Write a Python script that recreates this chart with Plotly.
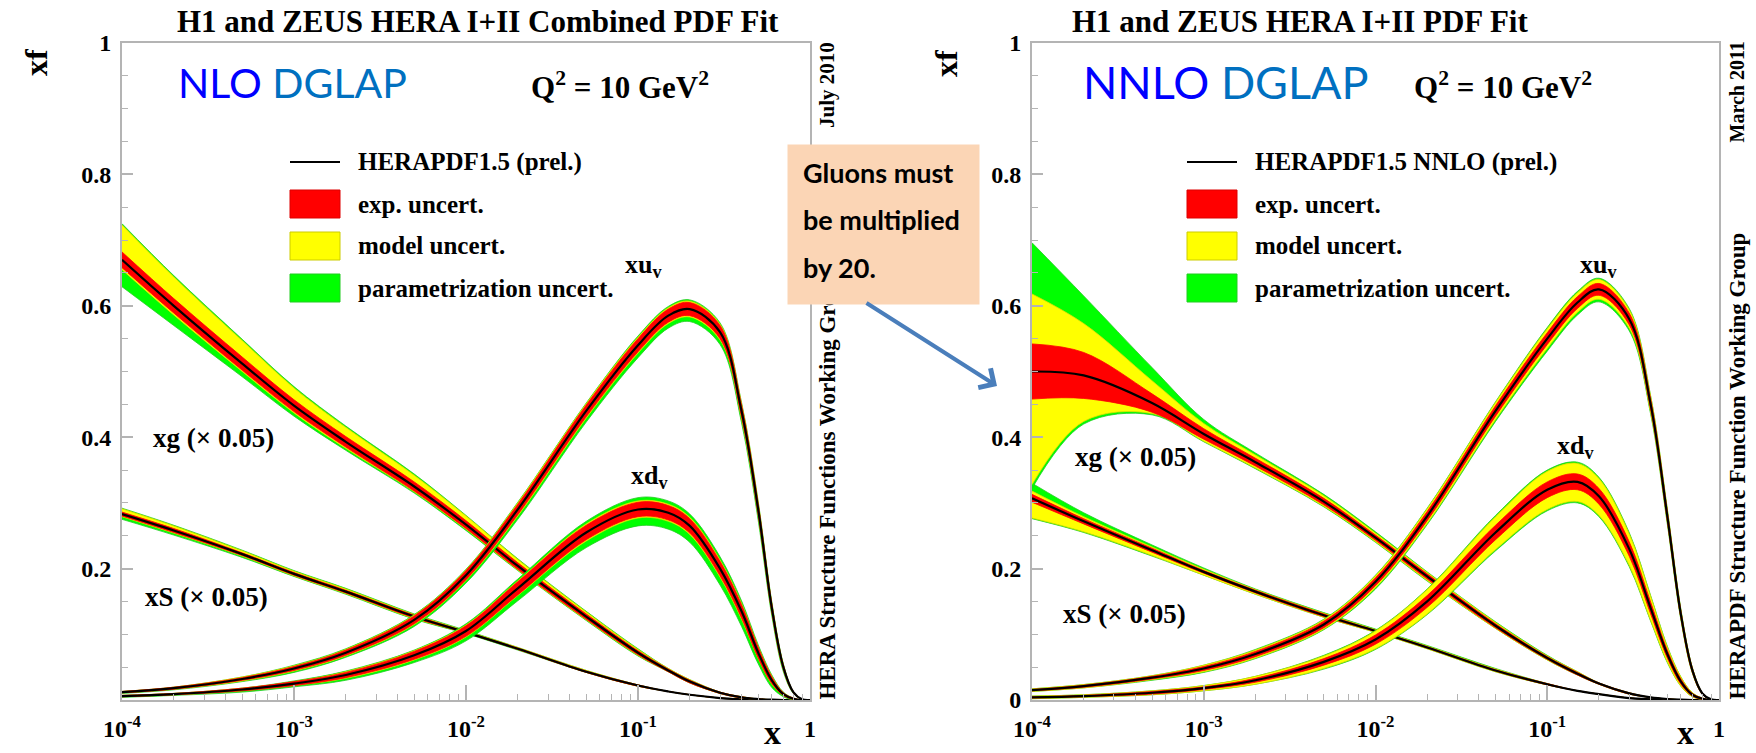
import math
import plotly.graph_objects as go

W, H = 1756, 753

# common x grid
X = [1e-4, 2e-4, 5e-4, 1e-3, 2e-3, 5e-3, 0.01, 0.02, 0.05, 0.1, 0.15, 0.2, 0.3, 0.4, 0.5, 0.6, 0.7, 0.8, 0.9, 1.0]

# ---------------- NLO panel ----------------
NLO_G = [0.670, 0.600, 0.512, 0.448, 0.393, 0.325, 0.267, 0.204, 0.127, 0.072, 0.045, 0.028, 0.011, 0.004, 0.0015, 0.0005, 0, 0, 0, 0]
NLO_G_EXP = [0.012, 0.011, 0.010, 0.009, 0.008, 0.007, 0.006, 0.005, 0.004, 0.003, 0.002, 0.002, 0.001, 0.001, 0, 0, 0, 0, 0, 0]
NLO_G_MOD_UP = [0.041, 0.033, 0.025, 0.018, 0.014, 0.010, 0.007, 0.005, 0.003, 0.002, 0.001, 0.001, 0, 0, 0, 0, 0, 0, 0, 0]
NLO_G_MOD_DN = [0.003, 0.003, 0.002, 0.002, 0.002, 0.001, 0.001, 0.001, 0.001, 0.001, 0, 0, 0, 0, 0, 0, 0, 0, 0, 0]
NLO_G_PAR_UP = [0.002, 0.002, 0.002, 0.002, 0.002, 0.002, 0.001, 0.001, 0.001, 0.001, 0, 0, 0, 0, 0, 0, 0, 0, 0, 0]
NLO_G_PAR_DN = [0.026, 0.016, 0.008, 0.005, 0.003, 0.002, 0.002, 0.001, 0.001, 0.001, 0, 0, 0, 0, 0, 0, 0, 0, 0, 0]

NLO_S = [0.283, 0.258, 0.222, 0.192, 0.165, 0.127, 0.103, 0.078, 0.043, 0.022, 0.013, 0.008, 0.003, 0.001, 0, 0, 0, 0, 0, 0]
NLO_S_EXP = [0.003, 0.003, 0.002, 0.002, 0.002, 0.002, 0.001, 0.001, 0.001, 0.001, 0, 0, 0, 0, 0, 0, 0, 0, 0, 0]
NLO_S_MOD_UP = [0.005, 0.004, 0.003, 0.002, 0.002, 0.001, 0.001, 0.001, 0.001, 0, 0, 0, 0, 0, 0, 0, 0, 0, 0, 0]
NLO_S_MOD_DN = [0.001, 0.001, 0.001, 0.001, 0.001, 0.001, 0, 0, 0, 0, 0, 0, 0, 0, 0, 0, 0, 0, 0, 0]
NLO_S_PAR_UP = [0.001, 0.001, 0.001, 0.001, 0.001, 0.001, 0.001, 0, 0, 0, 0, 0, 0, 0, 0, 0, 0, 0, 0, 0]
NLO_S_PAR_DN = [0.004, 0.003, 0.002, 0.001, 0.001, 0.001, 0.001, 0.001, 0, 0, 0, 0, 0, 0, 0, 0, 0, 0, 0, 0]

NLO_UV = [0.012, 0.018, 0.032, 0.048, 0.072, 0.122, 0.19, 0.29, 0.44, 0.54, 0.585, 0.595, 0.56, 0.44, 0.29, 0.14, 0.05, 0.012, 0.001, 0]
NLO_UV_EXP = [0.001, 0.0015, 0.002, 0.003, 0.004, 0.006, 0.007, 0.008, 0.009, 0.010, 0.010, 0.010, 0.010, 0.009, 0.008, 0.006, 0.003, 0.001, 0, 0]
NLO_UV_MOD_UP = [0, 0, 0.001, 0.001, 0.001, 0.001, 0.001, 0.002, 0.002, 0.002, 0.002, 0.002, 0.002, 0.002, 0.002, 0.001, 0.001, 0, 0, 0]
NLO_UV_MOD_DN = [0, 0, 0.001, 0.001, 0.001, 0.001, 0.001, 0.002, 0.002, 0.002, 0.002, 0.002, 0.002, 0.002, 0.002, 0.001, 0.001, 0, 0, 0]
NLO_UV_PAR_UP = [0, 0, 0, 0.001, 0.001, 0.001, 0.001, 0.001, 0.001, 0.002, 0.002, 0.002, 0.002, 0.002, 0.002, 0.002, 0.001, 0, 0, 0]
NLO_UV_PAR_DN = [0.001, 0.001, 0.001, 0.002, 0.002, 0.003, 0.004, 0.005, 0.006, 0.007, 0.007, 0.007, 0.007, 0.007, 0.007, 0.005, 0.003, 0.001, 0, 0]

NLO_DV = [0.006, 0.009, 0.016, 0.025, 0.038, 0.068, 0.105, 0.17, 0.255, 0.29, 0.285, 0.265, 0.20, 0.135, 0.072, 0.03, 0.009, 0.002, 0, 0]
NLO_DV_EXP = [0.001, 0.001, 0.002, 0.003, 0.004, 0.006, 0.008, 0.010, 0.011, 0.011, 0.011, 0.011, 0.011, 0.010, 0.008, 0.005, 0.002, 0.001, 0, 0]
NLO_DV_MOD_UP = [0, 0, 0, 0, 0.001, 0.001, 0.001, 0.001, 0.002, 0.002, 0.002, 0.002, 0.002, 0.002, 0.001, 0.001, 0, 0, 0, 0]
NLO_DV_MOD_DN = [0, 0, 0, 0, 0.001, 0.001, 0.001, 0.001, 0.002, 0.002, 0.002, 0.002, 0.002, 0.002, 0.001, 0.001, 0, 0, 0, 0]
NLO_DV_PAR_UP = [0, 0, 0, 0.001, 0.001, 0.001, 0.002, 0.003, 0.004, 0.005, 0.005, 0.005, 0.005, 0.004, 0.003, 0.002, 0.001, 0, 0, 0]
NLO_DV_PAR_DN = [0.001, 0.001, 0.002, 0.002, 0.003, 0.004, 0.006, 0.008, 0.010, 0.012, 0.012, 0.012, 0.012, 0.011, 0.008, 0.005, 0.002, 0.001, 0, 0]

# ---------------- NNLO panel ----------------
NNLO_G = [0.500, 0.494, 0.452, 0.405, 0.362, 0.302, 0.247, 0.188, 0.113, 0.064, 0.040, 0.025, 0.010, 0.004, 0.0015, 0.0005, 0, 0, 0, 0]
NNLO_G_EXP = [0.042, 0.035, 0.014, 0.008, 0.006, 0.005, 0.004, 0.004, 0.003, 0.002, 0.002, 0.001, 0.001, 0, 0, 0, 0, 0, 0, 0]
NNLO_G_MOD_UP = [0.076, 0.044, 0.020, 0.008, 0.005, 0.004, 0.003, 0.002, 0.002, 0.001, 0.001, 0, 0, 0, 0, 0, 0, 0, 0, 0]
NNLO_G_MOD_DN = [0.130, 0.035, 0.002, 0.003, 0.003, 0.002, 0.002, 0.002, 0.001, 0.001, 0, 0, 0, 0, 0, 0, 0, 0, 0, 0]
NNLO_G_PAR_UP = [0.078, 0.042, 0.020, 0.006, 0.003, 0.002, 0.002, 0.001, 0.001, 0.001, 0, 0, 0, 0, 0, 0, 0, 0, 0, 0]
NNLO_G_PAR_DN = [0.006, 0.004, 0.002, 0.001, 0.001, 0.001, 0.001, 0.001, 0, 0, 0, 0, 0, 0, 0, 0, 0, 0, 0, 0]

NNLO_S = [0.307, 0.272, 0.228, 0.195, 0.165, 0.129, 0.105, 0.080, 0.045, 0.024, 0.014, 0.009, 0.003, 0.001, 0, 0, 0, 0, 0, 0]
NNLO_S_EXP = [0.006, 0.004, 0.003, 0.002, 0.002, 0.002, 0.001, 0.001, 0.001, 0.001, 0, 0, 0, 0, 0, 0, 0, 0, 0, 0]
NNLO_S_MOD_UP = [0.005, 0.003, 0.002, 0.002, 0.001, 0.001, 0.001, 0.001, 0.001, 0, 0, 0, 0, 0, 0, 0, 0, 0, 0, 0]
NNLO_S_MOD_DN = [0.024, 0.012, 0.005, 0.003, 0.002, 0.001, 0.001, 0.001, 0.001, 0, 0, 0, 0, 0, 0, 0, 0, 0, 0, 0]
NNLO_S_PAR_UP = [0.012, 0.006, 0.003, 0.002, 0.001, 0.001, 0.001, 0.001, 0.001, 0, 0, 0, 0, 0, 0, 0, 0, 0, 0, 0]
NNLO_S_PAR_DN = [0.001, 0.001, 0.001, 0, 0, 0, 0, 0, 0, 0, 0, 0, 0, 0, 0, 0, 0, 0, 0, 0]

NNLO_UV = [0.015, 0.021, 0.034, 0.048, 0.07, 0.115, 0.18, 0.28, 0.44, 0.55, 0.605, 0.625, 0.58, 0.45, 0.28, 0.13, 0.045, 0.01, 0.001, 0]
NNLO_UV_EXP = [0.001, 0.0015, 0.002, 0.003, 0.004, 0.005, 0.006, 0.007, 0.008, 0.009, 0.009, 0.009, 0.009, 0.008, 0.007, 0.005, 0.003, 0.001, 0, 0]
NNLO_UV_MOD_UP = [0.001, 0.001, 0.001, 0.002, 0.002, 0.002, 0.003, 0.004, 0.005, 0.006, 0.006, 0.006, 0.005, 0.004, 0.003, 0.002, 0.001, 0, 0, 0]
NNLO_UV_MOD_DN = [0.001, 0.001, 0.001, 0.002, 0.002, 0.002, 0.003, 0.004, 0.005, 0.006, 0.006, 0.006, 0.005, 0.004, 0.003, 0.002, 0.001, 0, 0, 0]
NNLO_UV_PAR_UP = [0, 0, 0, 0, 0.001, 0.001, 0.001, 0.001, 0.001, 0.002, 0.002, 0.002, 0.002, 0.001, 0.001, 0.001, 0, 0, 0, 0]
NNLO_UV_PAR_DN = [0, 0, 0.001, 0.001, 0.001, 0.001, 0.002, 0.002, 0.003, 0.004, 0.004, 0.004, 0.004, 0.003, 0.002, 0.001, 0, 0, 0, 0]

NNLO_DV = [0.004, 0.006, 0.011, 0.018, 0.03, 0.058, 0.092, 0.15, 0.255, 0.32, 0.332, 0.31, 0.23, 0.14, 0.07, 0.028, 0.008, 0.002, 0, 0]
NNLO_DV_EXP = [0.001, 0.001, 0.002, 0.002, 0.003, 0.005, 0.007, 0.009, 0.011, 0.012, 0.012, 0.012, 0.011, 0.009, 0.006, 0.004, 0.002, 0.001, 0, 0]
NNLO_DV_MOD_UP = [0.001, 0.001, 0.001, 0.002, 0.003, 0.004, 0.006, 0.009, 0.013, 0.016, 0.016, 0.015, 0.012, 0.009, 0.005, 0.003, 0.001, 0, 0, 0]
NNLO_DV_MOD_DN = [0.001, 0.001, 0.001, 0.002, 0.003, 0.005, 0.007, 0.010, 0.015, 0.018, 0.018, 0.017, 0.014, 0.010, 0.006, 0.003, 0.001, 0, 0, 0]
NNLO_DV_PAR_UP = [0, 0, 0, 0, 0, 0.001, 0.001, 0.001, 0.002, 0.002, 0.002, 0.002, 0.002, 0.001, 0.001, 0, 0, 0, 0, 0]
NNLO_DV_PAR_DN = [0, 0, 0, 0, 0, 0.001, 0.001, 0.001, 0.002, 0.002, 0.002, 0.002, 0.002, 0.001, 0.001, 0, 0, 0, 0, 0]

# tick labels
X_TICKVALS = [1e-4, 1e-3, 1e-2, 1e-1, 1]
X_TICKTEXT = ["10<sup>-4</sup>", "10<sup>-3</sup>", "10<sup>-2</sup>", "10<sup>-1</sup>", "1"]
X_MINOR = [k * 10.0 ** e for e in range(-4, 0) for k in range(2, 10)]
Y_TICKVALS_L = [0.2, 0.4, 0.6, 0.8, 1.0]
Y_TICKTEXT_L = ["0.2", "0.4", "0.6", "0.8", "1"]
Y_TICKVALS_R = [0, 0.2, 0.4, 0.6, 0.8, 1.0]
Y_TICKTEXT_R = ["0", "0.2", "0.4", "0.6", "0.8", "1"]

RED, YELLOW, GREEN = "#ff0000", "#ffff00", "#00ff00"
SERIF = "Liberation Serif"


def px(x):
    return x / W


def py(y):
    return 1 - y / H


fig = go.Figure()


def add_curve(axis, c, exp, mu, md, pu, pd):
    red_hi = [a + b for a, b in zip(c, exp)]
    red_lo = [a - b for a, b in zip(c, exp)]
    yel_hi = [a + b for a, b in zip(red_hi, mu)]
    yel_lo = [a - b for a, b in zip(red_lo, md)]
    grn_hi = [a + b for a, b in zip(yel_hi, pu)]
    grn_lo = [a - b for a, b in zip(yel_lo, pd)]
    xa, ya = ("x", "y") if axis == 1 else ("x2", "y2")
    for lo, hi, col, lc in [(grn_lo, grn_hi, GREEN, "#22cc22"), (yel_lo, yel_hi, YELLOW, "#dddd00"), (red_lo, red_hi, RED, RED)]:
        fig.add_trace(go.Scatter(x=X, y=lo, mode="lines", xaxis=xa, yaxis=ya,
                                 line=dict(color=lc, width=0.8, shape="spline", smoothing=1.0),
                                 showlegend=False, hoverinfo="skip"))
        fig.add_trace(go.Scatter(x=X, y=hi, mode="lines", xaxis=xa, yaxis=ya, fill="tonexty", fillcolor=col,
                                 line=dict(color=lc, width=0.8, shape="spline", smoothing=1.0),
                                 showlegend=False, hoverinfo="skip"))
    fig.add_trace(go.Scatter(x=X, y=c, mode="lines", xaxis=xa, yaxis=ya,
                             line=dict(color="black", width=2.2, shape="spline", smoothing=1.0),
                             showlegend=False, hoverinfo="skip"))


add_curve(1, NLO_S, NLO_S_EXP, NLO_S_MOD_UP, NLO_S_MOD_DN, NLO_S_PAR_UP, NLO_S_PAR_DN)
add_curve(1, NLO_G, NLO_G_EXP, NLO_G_MOD_UP, NLO_G_MOD_DN, NLO_G_PAR_UP, NLO_G_PAR_DN)
add_curve(1, NLO_DV, NLO_DV_EXP, NLO_DV_MOD_UP, NLO_DV_MOD_DN, NLO_DV_PAR_UP, NLO_DV_PAR_DN)
add_curve(1, NLO_UV, NLO_UV_EXP, NLO_UV_MOD_UP, NLO_UV_MOD_DN, NLO_UV_PAR_UP, NLO_UV_PAR_DN)
add_curve(2, NNLO_S, NNLO_S_EXP, NNLO_S_MOD_UP, NNLO_S_MOD_DN, NNLO_S_PAR_UP, NNLO_S_PAR_DN)
add_curve(2, NNLO_G, NNLO_G_EXP, NNLO_G_MOD_UP, NNLO_G_MOD_DN, NNLO_G_PAR_UP, NNLO_G_PAR_DN)
add_curve(2, NNLO_DV, NNLO_DV_EXP, NNLO_DV_MOD_UP, NNLO_DV_MOD_DN, NNLO_DV_PAR_UP, NNLO_DV_PAR_DN)
add_curve(2, NNLO_UV, NNLO_UV_EXP, NNLO_UV_MOD_UP, NNLO_UV_MOD_DN, NNLO_UV_PAR_UP, NNLO_UV_PAR_DN)

FRAME = "#b4b4b4"
tickfont = dict(family=SERIF, size=24, color="black", weight="bold")


def xaxis(dom, anchor):
    return dict(type="log", range=[-4, 0], domain=dom, anchor=anchor, automargin=False,
                showgrid=False, zeroline=False,
                showline=True, linecolor=FRAME, linewidth=2, mirror=True,
                ticks="inside", ticklen=15, tickwidth=1.5, tickcolor=FRAME,
                tickvals=X_TICKVALS, ticktext=X_TICKTEXT, tickfont=tickfont, ticklabelstandoff=6,
                minor=dict(tickvals=X_MINOR, ticks="inside", ticklen=6, tickcolor=FRAME, tickwidth=1.2))


def yaxis(dom, anchor, tv, tt):
    return dict(range=[0, 1], domain=dom, anchor=anchor, automargin=False,
                showgrid=False, zeroline=False,
                showline=True, linecolor=FRAME, linewidth=2, mirror=True,
                ticks="inside", ticklen=11, tickwidth=1.5, tickcolor=FRAME,
                tickvals=tv, ticktext=tt, tickfont=tickfont, ticklabelstandoff=4,
                minor=dict(dtick=0.05, ticks="inside", ticklen=6, tickcolor=FRAME, tickwidth=1.2))


YDOM = [py(700), py(43)]
fig.update_layout(
    width=W, height=H, margin=dict(l=0, r=0, t=0, b=0, autoexpand=False),
    paper_bgcolor="white", plot_bgcolor="white", showlegend=False,
    xaxis=xaxis([px(122), px(810)], "y"),
    yaxis=yaxis(YDOM, "x", Y_TICKVALS_L, Y_TICKTEXT_L),
    xaxis2=xaxis([px(1032), px(1719)], "y2"),
    yaxis2=yaxis(YDOM, "x2", Y_TICKVALS_R, Y_TICKTEXT_R),
)

ann = []


def text(x, y, s, size, color="black", family=SERIF, bold=True, angle=0, xanchor="center", yanchor="middle", ref="paper", xr=None, yr=None):
    d = dict(x=x, y=y, text=s, showarrow=False, textangle=angle, xanchor=xanchor, yanchor=yanchor,
             font=dict(family=family, size=size, color=color, weight="bold" if bold else "normal"))
    if ref == "paper":
        d.update(xref="paper", yref="paper")
    else:
        # log x axis: annotation positions are given in log10 units
        d.update(xref=xr, yref=yr, x=math.log10(x))
    ann.append(d)


# titles
text(px(478), py(22), "H1 and ZEUS HERA I+II Combined PDF Fit", 31)
text(px(1300), py(22), "H1 and ZEUS HERA I+II PDF Fit", 31)
# axis titles
text(px(36), py(63), "xf", 32, angle=-90)
text(px(946), py(63), "xf", 32, angle=-90)
text(px(772), py(753), "x", 34, yanchor="bottom")
text(px(1685), py(753), "x", 34, yanchor="bottom")
# NLO / NNLO DGLAP
text(px(176), py(82), '<span style="color:#0000ff">NLO</span> <span style="color:#0070c0">DGLAP</span>', 41,
     family="Lato", bold=False, xanchor="left")
text(px(1081), py(82), '<span style="color:#0000ff">NNLO</span> <span style="color:#0070c0">DGLAP</span>', 45,
     family="Lato", bold=False, xanchor="left")
# Q^2
text(px(529), py(85), "Q<sup>2</sup> = 10 GeV<sup>2</sup>", 31, xanchor="left")
text(px(1412), py(85), "Q<sup>2</sup> = 10 GeV<sup>2</sup>", 31, xanchor="left")
# vertical side texts
text(px(827), py(40), "July 2010", 21, angle=-90, yanchor="top")
text(px(827), py(702), "HERA Structure Functions Working Group", 23, angle=-90, yanchor="bottom")
text(px(1737), py(40), "March 2011", 20, angle=-90, yanchor="top")
text(px(1737), py(702), "HERAPDF Structure Function Working Group", 23, angle=-90, yanchor="bottom")

# curve labels (data coordinates)
text(0.108, 0.661, "xu<sub>v</sub>", 26, ref="data", xr="x", yr="y")
text(0.117, 0.340, "xd<sub>v</sub>", 26, ref="data", xr="x", yr="y")
text(3.4e-4, 0.399, "xg (× 0.05)", 27, ref="data", xr="x", yr="y")
text(3.1e-4, 0.157, "xS (× 0.05)", 27, ref="data", xr="x", yr="y")
text(0.2, 0.661, "xu<sub>v</sub>", 26, ref="data", xr="x2", yr="y2")
text(0.147, 0.385, "xd<sub>v</sub>", 26, ref="data", xr="x2", yr="y2")
text(4.0e-4, 0.370, "xg (× 0.05)", 27, ref="data", xr="x2", yr="y2")
text(3.45e-4, 0.131, "xS (× 0.05)", 27, ref="data", xr="x2", yr="y2")

# legends
shapes = []
for x0, label in [(290, "HERAPDF1.5 (prel.)"), (1187, "HERAPDF1.5 NNLO (prel.)")]:
    shapes.append(dict(type="line", xref="paper", yref="paper", x0=px(x0), x1=px(x0 + 50), y0=py(162), y1=py(162),
                       line=dict(color="black", width=2.2)))
    text(px(x0 + 66), py(162), label, 25, xanchor="left")
    for (yc, col, lc, lab) in [(204, RED, "#dd0000", "exp. uncert."), (246, YELLOW, "#cccc00", "model uncert."),
                               (288, GREEN, "#22cc22", "parametrization uncert.")]:
        shapes.append(dict(type="rect", xref="paper", yref="paper", x0=px(x0), x1=px(x0 + 50), y0=py(yc + 14), y1=py(yc - 14),
                           fillcolor=col, line=dict(color=lc, width=1)))
        text(px(x0 + 66), py(yc), lab, 25, xanchor="left")

# callout box (annotation drawn after the side text so it covers it)
ann.append(dict(x=px(787), y=py(144), xref="paper", yref="paper", xanchor="left", yanchor="top",
                text=" ", showarrow=False, width=191, height=159, bgcolor="#fbd5b5", borderpad=0,
                font=dict(size=10)))
for yc, line in [(172, "Gluons must"), (220, "be multiplied"), (267, "by 20.")]:
    text(px(801), py(yc), line, 27, family="Lato", xanchor="left")
# arrow
ann.append(dict(x=px(997), y=py(386), xref="paper", yref="paper", ax=-132, ay=-84, axref="pixel", ayref="pixel",
                text="", showarrow=True, arrowhead=4, arrowsize=1.1, arrowwidth=4, arrowcolor="#4a7ebb"))

fig.update_layout(annotations=ann, shapes=shapes)
fig.write_html("out.html")
